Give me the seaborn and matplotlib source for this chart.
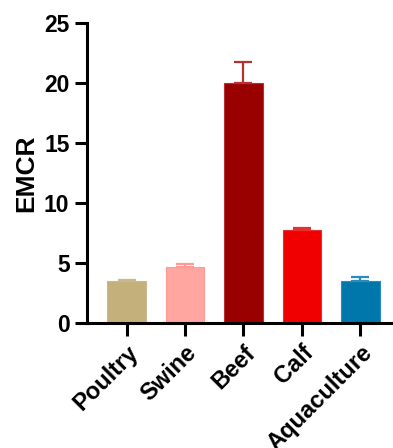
import matplotlib
matplotlib.use("Agg")
import matplotlib.pyplot as plt
import seaborn as sns
import numpy as np
import pandas as pd

categories = ['Poultry', 'Swine', 'Beef', 'Calf', 'Aquaculture']
emcr = [3.5, 4.7, 20.0, 7.75, 3.5]
emcr_err = [0.05, 0.2, 1.7, 0.2, 0.35]
bar_colors = ['#C4B07A', '#FFA6A0', '#990000', '#F00000', '#0077AA']
err_colors = ['#C9B98A', '#FF9A94', '#B83030', '#E83030', '#2A8CBE']

sns.set_style('ticks')
plt.rcParams['font.family'] = ['Liberation Sans', 'DejaVu Sans']
plt.rcParams['font.weight'] = 'bold'
for k in ['text.color', 'axes.labelcolor', 'xtick.color', 'ytick.color', 'axes.edgecolor']:
    plt.rcParams[k] = 'black'

df = pd.DataFrame({'group': categories, 'EMCR': emcr})

fig = plt.figure(figsize=(3.93, 4.48), dpi=100)
ax = fig.add_axes([0.221, 0.279, 0.80, 0.670])

sns.barplot(data=df, x='group', y='EMCR', hue='group', palette=bar_colors,
            errorbar=None, width=0.66, legend=False, ax=ax,
            linewidth=0.8, saturation=1)
for p, c in zip(ax.patches, err_colors):
    p.set_edgecolor(c)

for i, (m, e, c) in enumerate(zip(emcr, emcr_err, err_colors)):
    ax.errorbar(i, m, yerr=[[0], [e]], color=c, capsize=6.8,
                elinewidth=1.6, capthick=1.6, fmt='none')

ax.set_ylim(0, 25)
ax.set_yticks([0, 5, 10, 15, 20, 25])
ax.set_xlim(-0.68, 4.7)
ax.set_xlabel('')
ax.set_ylabel('EMCR', fontsize=19, fontweight='bold', labelpad=4)
ax.tick_params(axis='both', width=2.2, length=9, labelsize=16.5, direction='out')
ax.tick_params(axis='x', pad=4, labelsize=17)
plt.setp(ax.get_xticklabels(), rotation=45, ha='right', rotation_mode='anchor',
         fontweight='bold')
plt.setp(ax.get_yticklabels(), fontweight='bold')
for s in ['left', 'bottom']:
    ax.spines[s].set_linewidth(2.2)
sns.despine(ax=ax)

fig.savefig('out.png', dpi=100)
